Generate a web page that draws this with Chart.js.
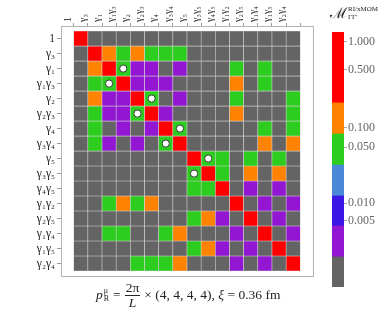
<!DOCTYPE html>
<html>
<head>
<meta charset="utf-8">
<script src="https://cdn.jsdelivr.net/npm/chart.js@4.4.1/dist/chart.umd.min.js"></script>
<style>
  html, body { margin: 0; padding: 0; background: #fff; }
  #wrap { position: relative; width: 382px; height: 313px; overflow: hidden;
          font-family: 'Liberation Serif', 'DejaVu Serif', serif; color: #222; }
  #heatBox { position: absolute; left: 0; top: 0; width: 320px; height: 285px; }
  #barBox { position: absolute; left: 300px; top: 0; width: 82px; height: 300px; }
  #cbTitle { position: absolute; left: 330px; top: 5px; white-space: nowrap; display: flex; align-items: center; }
  #cbTitle .m { font-size: 15px; line-height: 16px; }
  #cbTitle .ss { display: inline-flex; flex-direction: column; font-size: 7px; line-height: 8px; margin-left: 1px; }
  #note { position: absolute; left: 96px; top: 281px; font-size: 13.5px; white-space: nowrap;
          display: flex; align-items: center; }
  #note .ss { display: inline-flex; flex-direction: column; font-size: 8px; line-height: 8px; margin: 0 4px 0 1px; }
  #note .frac { display: inline-flex; flex-direction: column; align-items: center; margin: 0 4px; line-height: 13px; }
  #note .frac span:first-child { border-bottom: 1px solid #222; padding: 0 1px 1px; }
</style>
</head>
<body>
<div id="wrap">
  <div id="heatBox"><canvas id="heat"></canvas></div>
  <div id="barBox"><canvas id="bar"></canvas></div>
  <div id="cbTitle"><span class="m">ℳ</span><span class="ss"><span>RI/xMOM</span><span>ΓΓ′</span></span></div>
  <div id="note"><i>p</i><span class="ss"><span>μ</span><span>R</span></span>=<span class="frac"><span>2π</span><span><i>L</i></span></span>× (4, 4, 4, 4), <i>&nbsp;ξ</i>&nbsp;= 0.36 fm</div>
</div>
<script>
// gamma structures, same order on both axes
const ROW_LABELS = ['1', 'γ₃', 'γ₁', 'γ₁γ₃', 'γ₂', 'γ₂γ₃', 'γ₄', 'γ₃γ₄',
                    'γ₅', 'γ₃γ₅', 'γ₄γ₅', 'γ₁γ₂', 'γ₂γ₅', 'γ₁γ₄', 'γ₁γ₅', 'γ₂γ₄'];
const COL_LABELS = ROW_LABELS.slice();

// estimated magnitude per cell (read from colour bins)
const R = 1.0, O = 0.12, G = 0.05, P = 0.005, _ = 0.001;
const MATRIX = [
  [R,_,_,_,_,_,_,_,_,_,_,_,_,_,_,_],
  [_,R,O,G,O,G,G,G,_,_,_,_,_,_,_,_],
  [_,O,R,G,P,P,_,P,_,_,_,G,_,G,_,_],
  [_,G,G,R,P,P,P,_,_,_,_,O,_,G,_,_],
  [_,O,P,P,R,G,_,P,_,_,_,G,_,_,_,G],
  [_,G,P,P,G,R,P,_,_,_,_,O,_,_,_,G],
  [_,G,_,P,_,P,R,G,_,_,_,_,_,G,_,G],
  [_,G,P,_,P,_,G,R,_,_,_,_,_,O,_,O],
  [_,_,_,_,_,_,_,_,R,G,G,_,G,_,G,_],
  [_,_,_,_,_,_,_,_,G,R,G,_,O,_,O,_],
  [_,_,_,_,_,_,_,_,G,G,R,_,P,_,P,_],
  [_,_,G,O,G,O,_,_,_,_,_,R,_,P,_,P],
  [_,_,_,_,_,_,_,_,G,O,P,_,R,_,P,_],
  [_,_,G,G,_,_,G,O,_,_,_,P,_,R,_,P],
  [_,_,_,_,_,_,_,_,G,O,P,_,P,_,R,_],
  [_,_,_,_,G,G,G,O,_,_,_,P,_,P,_,R],
];

// cells carrying a white marker: [row, col]
const MARKED = [[2,3],[3,2],[4,5],[5,4],[6,7],[7,6],[8,9],[9,8]];

// colour bins, low to high
const BIN_LOWER  = [0, 0.003, 0.008, 0.015, 0.03, 0.08, 0.3];
const BIN_COLORS = ['#646464', '#9216d2', '#3c16e4', '#4a88d8', '#2dcd1f', '#ff8200', '#ff0000'];

// colour bar: bin edges and tick places along the bar (0 = bottom, 1 = top)
const CB_EDGES = [0, 0.118, 0.239, 0.357, 0.478, 0.6, 0.722, 1];
const CB_TICK_POS = [0.961, 0.851, 0.624, 0.549, 0.329, 0.259];
const CB_TICK_LABELS = ['1.000', '0.500', '0.100', '0.050', '0.010', '0.005'];

Chart.defaults.font.family = "'Liberation Serif', 'DejaVu Serif', serif";
Chart.defaults.animation = false;

const PAD = 0.34;
const N = ROW_LABELS.length;

function colorFor(v) {
  let col = BIN_COLORS[0];
  BIN_LOWER.forEach((lo, i) => { if (v >= lo) col = BIN_COLORS[i]; });
  return col;
}

const cellSets = MATRIX.map((row, r) => ({
  type: 'bar',
  label: ROW_LABELS[r],
  data: row.map((v, c) => ({ x: c + 0.5, y: [r, r + 1], v })),
  backgroundColor: row.map(colorFor),
  borderColor: '#d4d4d4',
  borderWidth: 0.6,
  borderSkipped: false,
  grouped: false,
  barPercentage: 1,
  categoryPercentage: 1,
}));

const markerSet = {
  type: 'scatter',
  data: MARKED.map(([r, c]) => ({ x: c + 0.5, y: r + 0.5 })),
  pointRadius: 3.6,
  pointBackgroundColor: '#ffffff',
  pointBorderColor: '#2a2a2a',
  pointBorderWidth: 0.9,
  order: -1,
};

const FRAME = '#b4b4b4';

new Chart(document.getElementById('heat'), {
  type: 'bar',
  data: { datasets: [...cellSets, markerSet] },
  options: {
    responsive: true,
    maintainAspectRatio: false,
    events: [],
    layout: { padding: { left: 0, top: 0, right: 7, bottom: 7 } },
    plugins: { legend: { display: false }, tooltip: { enabled: false } },
    scales: {
      x: {
        type: 'linear', position: 'top', min: -PAD, max: N + PAD,
        afterBuildTicks: s => { s.ticks = COL_LABELS.map((_, i) => ({ value: i + 0.5 })); },
        afterFit: s => { s.height = 26; },
        ticks: { autoSkip: false, minRotation: 90, maxRotation: 90, padding: 1,
                 color: '#222', font: { size: 10 }, callback: (v, i) => COL_LABELS[i] },
        grid: { drawOnChartArea: false, tickLength: 3, color: '#9a9a9a' },
        border: { color: FRAME },
      },
      y: {
        type: 'linear', position: 'left', reverse: true, min: -PAD, max: N + PAD,
        afterBuildTicks: s => { s.ticks = ROW_LABELS.map((_, i) => ({ value: i + 0.5 })); },
        afterFit: s => { s.width = 61; },
        ticks: { autoSkip: false, padding: 2, color: '#222', font: { size: 11.5 },
                 callback: (v, i) => ROW_LABELS[i] },
        grid: { drawOnChartArea: false, tickLength: 4, color: '#9a9a9a' },
        border: { color: FRAME },
      },
      x2: {
        type: 'linear', position: 'bottom', min: -PAD, max: N + PAD,
        afterBuildTicks: s => { s.ticks = []; },
        afterFit: s => { s.height = 0; },
        ticks: { display: false },
        grid: { drawOnChartArea: false, drawTicks: false },
        border: { color: FRAME },
      },
      y2: {
        type: 'linear', position: 'right', min: -PAD, max: N + PAD,
        afterBuildTicks: s => { s.ticks = []; },
        afterFit: s => { s.width = 0; },
        ticks: { display: false },
        grid: { drawOnChartArea: false, drawTicks: false },
        border: { color: FRAME },
      },
    },
  },
});

new Chart(document.getElementById('bar'), {
  type: 'bar',
  data: {
    labels: [''],
    datasets: BIN_COLORS.map((col, i) => ({
      data: [[CB_EDGES[i], CB_EDGES[i + 1]]],
      backgroundColor: col,
      borderWidth: 0,
      grouped: false,
      barPercentage: 1,
      categoryPercentage: 1,
    })),
  },
  options: {
    responsive: true,
    maintainAspectRatio: false,
    events: [],
    layout: { padding: { left: 32, top: 32, right: 0, bottom: 13 } },
    plugins: { legend: { display: false }, tooltip: { enabled: false } },
    scales: {
      x: { display: false },
      y: {
        position: 'right', min: 0, max: 1,
        afterBuildTicks: s => { s.ticks = CB_TICK_POS.map(p => ({ value: p })); },
        afterFit: s => { s.width = 38; },
        ticks: { padding: 1, color: '#666', font: { size: 12 },
                 callback: (v, i) => CB_TICK_LABELS[i] },
        grid: { drawOnChartArea: false, tickLength: 3, color: '#aaa' },
        border: { display: false },
      },
    },
  },
});
</script>
</body>
</html>
